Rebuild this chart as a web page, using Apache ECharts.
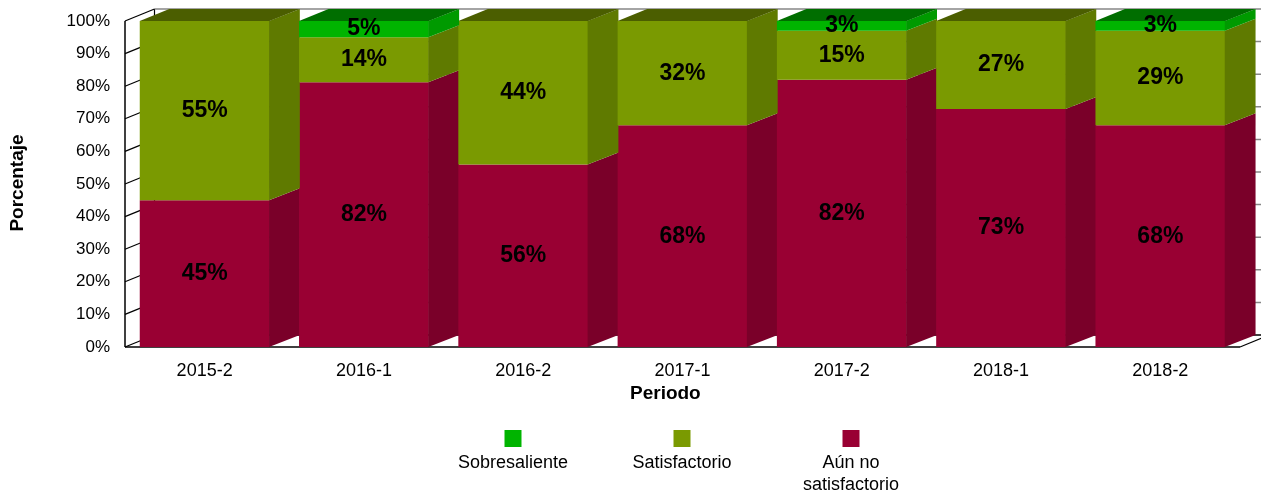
<!DOCTYPE html>
<html>
<head>
<meta charset="utf-8">
<script src="https://cdn.jsdelivr.net/npm/echarts@6/dist/echarts.min.js"></script>
<style>html,body{margin:0;padding:0;background:#fff;}#c{width:1261px;height:490px;}</style>
</head>
<body>
<div id="c"></div>
<script>
// ---- data ----
const categories = ['2015-2', '2016-1', '2016-2', '2017-1', '2017-2', '2018-1', '2018-2'];
const aunNoSatisfactorio = [45, 82, 56, 68, 82, 73, 68];
const satisfactorio = [55, 14, 44, 32, 15, 27, 29];
const sobresaliente = [0, 5, 0, 0, 3, 0, 3];
const seriesNames = ['Sobresaliente', 'Satisfactorio', 'Aún no\nsatisfactorio'];
const yTicks = [0, 10, 20, 30, 40, 50, 60, 70, 80, 90, 100];

// ---- styling ----
const FONT = 'Liberation Sans, Arial, Helvetica, sans-serif';
const DX = 29.5, DY = -12;
const palette = {
  red:   { front: '#990033', side: '#7A0029', top: '#5E0020' },
  olive: { front: '#7A9A01', side: '#5F7A00', top: '#4B5E00' },
  green: { front: '#00B400', side: '#009A00', top: '#006E00' }
};

// 100% stacking (built from the arrays above)
const stackOrder = [aunNoSatisfactorio, satisfactorio, sobresaliente];
const totals = categories.map((_, i) => stackOrder.reduce((s, a) => s + a[i], 0));
function topIndex(i) { let t = -1; stackOrder.forEach((a, k) => { if (a[i] > 0) t = k; }); return t; }
function buildData(level) {
  const out = [];
  categories.forEach((_, i) => {
    const v = stackOrder[level][i];
    if (v <= 0) return;
    let base = 0;
    for (let k = 0; k < level; k++) base += stackOrder[k][i];
    out.push([i, base / totals[i] * 100, (base + v) / totals[i] * 100, v, topIndex(i) === level ? 1 : 0]);
  });
  return out;
}

function barRenderer(col) {
  return function (params, api) {
    const ci = api.value(0), b = api.value(1), t = api.value(2), v = api.value(3), isTop = api.value(4);
    const p0 = api.coord([ci, b]);
    const p1 = api.coord([ci, t]);
    const band = api.size([1, 0])[0];
    const w = band - DX;
    const xl = p0[0] - w / 2, xr = p0[0] + w / 2;
    const yb = p0[1], yt = p1[1];
    const dx = DX + 0.8;
    const children = [
      { type: 'rect', shape: { x: xl, y: yt, width: w, height: yb - yt }, style: { fill: col.front } },
      { type: 'polygon', shape: { points: [[xr - 0.5, yt], [xr + dx, yt + DY], [xr + dx, yb + DY], [xr - 0.5, yb]] }, style: { fill: col.side } }
    ];
    if (isTop) {
      children.push({ type: 'polygon', shape: { points: [[xl, yt], [xr, yt], [xr + dx, yt + DY], [xl + DX, yt + DY]] }, style: { fill: col.top } });
    }
    children.push({
      type: 'text', z2: 50,
      style: { text: v + '%', x: (xl + xr) / 2, y: (yt + yb) / 2, align: 'center', verticalAlign: 'middle',
               font: 'bold 23px ' + FONT, fill: '#000' }
    });
    return { type: 'group', children: children };
  };
}

function frameRenderer(params, api) {
  const v = api.value(0);
  const cs = params.coordSys;
  const y = api.coord([0, v])[1];
  const x0 = cs.x, x1 = cs.x + cs.width;
  const children = [];
  children.push({ type: 'line', shape: { x1: x0 + DX, y1: y + DY, x2: x1 + DX, y2: y + DY },
    style: { stroke: v === 0 ? '#000' : '#868686', lineWidth: 1.5 } });
  children.push({ type: 'line', shape: { x1: x0, y1: y, x2: x0 + DX, y2: y + DY }, style: { stroke: '#000', lineWidth: 1.2 } });
  if (v === 0) {
    const yTop = api.coord([0, 100])[1];
    children.push({ type: 'line', shape: { x1: x0, y1: y, x2: x1, y2: y }, style: { stroke: '#000', lineWidth: 1.5 } });
    children.push({ type: 'line', shape: { x1: x1, y1: y, x2: x1 + DX, y2: y + DY }, style: { stroke: '#000', lineWidth: 1.2 } });
    children.push({ type: 'line', shape: { x1: x0, y1: y, x2: x0, y2: yTop }, style: { stroke: '#000', lineWidth: 1.5 } });
    children.push({ type: 'line', shape: { x1: x0 + DX, y1: y + DY, x2: x0 + DX, y2: yTop + DY }, style: { stroke: '#000', lineWidth: 1.2 } });
  }
  return { type: 'group', children: children };
}

const legendItems = [
  { name: seriesNames[0], color: palette.green.front, cx: 513 },
  { name: seriesNames[1], color: palette.olive.front, cx: 682 },
  { name: seriesNames[2], color: palette.red.front, cx: 851 }
];
const graphics = [
  { type: 'text', left: 630, top: 384, style: { text: 'Periodo', font: 'bold 19px ' + FONT, fill: '#000' } },
  { type: 'text', x: 18, y: 183, rotation: Math.PI / 2, style: { text: 'Porcentaje', font: 'bold 19px ' + FONT, fill: '#000', align: 'center', verticalAlign: 'middle' } }
];
legendItems.forEach(it => {
  graphics.push({ type: 'rect', shape: { x: it.cx - 8.5, y: 430, width: 17, height: 17 }, style: { fill: it.color } });
  graphics.push({ type: 'text', style: { text: it.name, x: it.cx, y: 452, align: 'center', verticalAlign: 'top',
    font: '18px ' + FONT, fill: '#000', lineHeight: 22 } });
});

const chart = echarts.init(document.getElementById('c'), null, { renderer: 'canvas' });
chart.setOption({
  backgroundColor: '#fff',
  animation: false,
  grid: { left: 125, right: 21, top: 21, bottom: 143, containLabel: false },
  xAxis: {
    type: 'category', data: categories,
    axisLine: { show: false }, axisTick: { show: false },
    axisLabel: { fontFamily: FONT, fontSize: 18, color: '#000', margin: 15 },
    splitLine: { show: false }
  },
  yAxis: {
    type: 'value', min: 0, max: 100, interval: 10,
    axisLine: { show: false }, axisTick: { show: false }, splitLine: { show: false },
    axisLabel: { formatter: '{value}%', fontFamily: FONT, fontSize: 17, color: '#000', margin: 15 }
  },
  graphic: graphics,
  series: [
    { type: 'custom', name: 'frame', z: 1, silent: true, renderItem: frameRenderer,
      encode: { y: 0 }, data: yTicks.map(v => [v]) },
    { type: 'custom', name: seriesNames[2], z: 2, renderItem: barRenderer(palette.red),
      encode: { x: 0, y: [1, 2] }, data: buildData(0) },
    { type: 'custom', name: seriesNames[1], z: 3, renderItem: barRenderer(palette.olive),
      encode: { x: 0, y: [1, 2] }, data: buildData(1) },
    { type: 'custom', name: seriesNames[0], z: 4, renderItem: barRenderer(palette.green),
      encode: { x: 0, y: [1, 2] }, data: buildData(2) }
  ]
});
</script>
</body>
</html>
